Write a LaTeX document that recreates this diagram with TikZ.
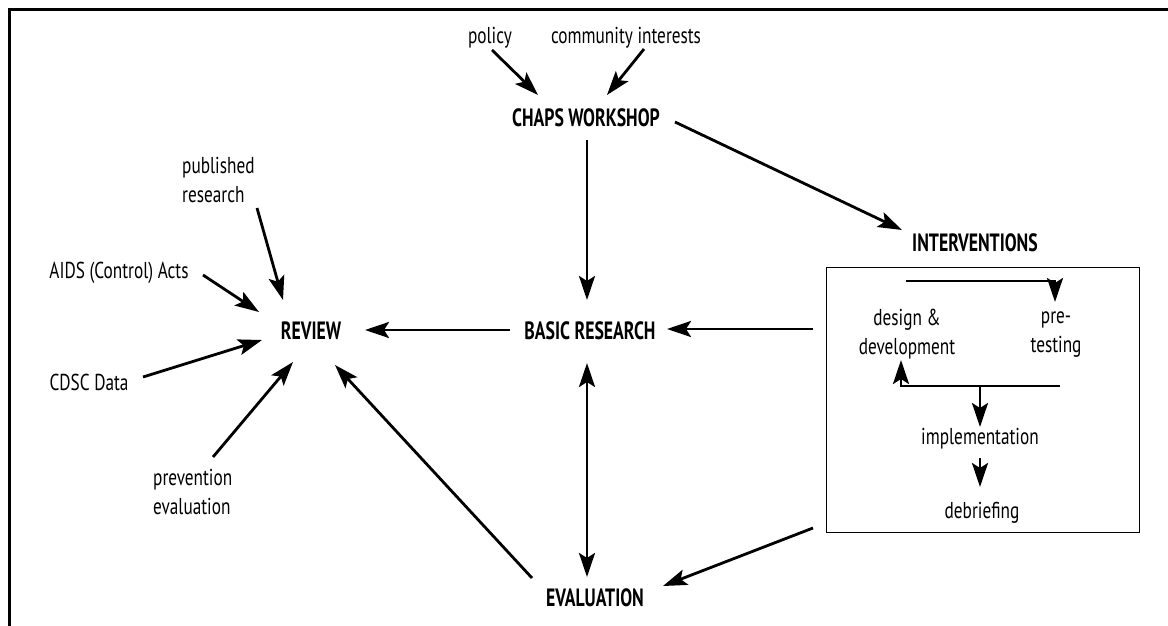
\documentclass[tikz,border=0pt]{standalone}
\usepackage{fontspec}
\setmainfont{PT Sans}[FakeStretch=0.75]
\newfontfamily\hdfont{PT Sans}[FakeStretch=0.71]
\usetikzlibrary{arrows.meta}
\begin{document}
\begin{tikzpicture}[x=1pt,y=-1pt,
  txt/.style={inner sep=0pt, font=\fontsize{23}{29}\selectfont},
  hd/.style={inner sep=0pt, font=\hdfont\fontsize{25}{28}\selectfont\bfseries},
  tip/.tip={Stealth[length=24pt,width=16pt,inset=5pt]},
  arr/.style={line width=2.8pt, -tip},
  dbl/.style={line width=2.8pt, tip-tip},
  box/.style={draw, line width=1pt}]
\useasboundingbox (0,0) rectangle (1168,626);
% frame
\draw[line width=2.8pt] (1170,9.5) -- (9.5,9.5) -- (9.5,630);
% nodes
\node[txt] (policy) at (490,38) {policy};
\node[txt] (comm) at (626,38) {community interests};
\node[hd] (chaps) at (586,118) {CHAPS WORKSHOP};
\node[hd] (inter) at (975,243) {INTERVENTIONS};
\node[txt, align=left, anchor=west] (pub) at (182,180) {published\\research};
\node[txt] (aids) at (119,273) {AIDS (Control) Acts};
\node[txt] (cdsc) at (89,382) {CDSC Data};
\node[txt, align=left, anchor=west] (prev) at (153,492) {prevention\\evaluation};
\node[hd] (review) at (311,331) {REVIEW};
\node[hd] (basic) at (590,331) {BASIC RESEARCH};
\node[hd] (eval) at (595,598) {EVALUATION};
\node[box, minimum width=313pt, minimum height=265pt] (ibox) at (982.5,399.5) {};
\node[txt, align=center] (dd) at (907,334) {design \&\\development};
\node[txt, align=center] (pt) at (1056,335) {pre-\\testing};
\node[txt] (impl) at (980,439) {implementation};
\node[txt] (deb) at (982,513) {debriefing};
% coordinates for connector ends
\coordinate (policyA) at (492,50);   \coordinate (chapsA) at (538,95);
\coordinate (commA) at (644,49);     \coordinate (chapsB) at (607,95);
\coordinate (chapsC) at (675,122);   \coordinate (interA) at (902,230);
\coordinate (chapsD) at (587,140);   \coordinate (basicA) at (587,300);
\coordinate (iboxA) at (813,329);    \coordinate (basicB) at (667,329);
\coordinate (basicC) at (510,330);   \coordinate (reviewA) at (365,330);
\coordinate (basicD) at (587,363);   \coordinate (evalA) at (587,577);
\coordinate (iboxB) at (813,528);    \coordinate (evalB) at (663,586);
\coordinate (evalC) at (532,578);    \coordinate (reviewB) at (335,365);
\coordinate (pubA) at (257,208);     \coordinate (reviewC) at (283,300);
\coordinate (aidsA) at (203,275);    \coordinate (reviewD) at (259,312);
\coordinate (cdscA) at (143,377);    \coordinate (reviewE) at (262,340);
\coordinate (prevA) at (213,457);    \coordinate (reviewF) at (293,362);
\coordinate (c1) at (906,281); \coordinate (c2) at (1055,281); \coordinate (ptA) at (1055,302);
\coordinate (c3) at (1060,386); \coordinate (c4) at (901,386); \coordinate (ddA) at (901,360);
\coordinate (c5) at (980,386); \coordinate (implA) at (980,427);
\coordinate (implB) at (980,458); \coordinate (debA) at (980,487);
% connectors
\draw[arr] (policyA) -- (chapsA);
\draw[arr] (commA) -- (chapsB);
\draw[arr] (chapsC) -- (interA);
\draw[arr] (chapsD) -- (basicA);
\draw[arr] (iboxA) -- (basicB);
\draw[arr] (basicC) -- (reviewA);
\draw[dbl] (basicD) -- (evalA);
\draw[arr] (iboxB) -- (evalB);
\draw[arr] (evalC) -- (reviewB);
\draw[arr] (pubA) -- (reviewC);
\draw[arr] (aidsA) -- (reviewD);
\draw[arr] (cdscA) -- (reviewE);
\draw[arr] (prevA) -- (reviewF);
\draw[arr] (c1) -- (c2) -- (ptA);
\draw[arr] (c3) -- (c4) -- (ddA);
\draw[arr] (c5) -- (implA);
\draw[arr] (implB) -- (debA);
\end{tikzpicture}
\end{document}
